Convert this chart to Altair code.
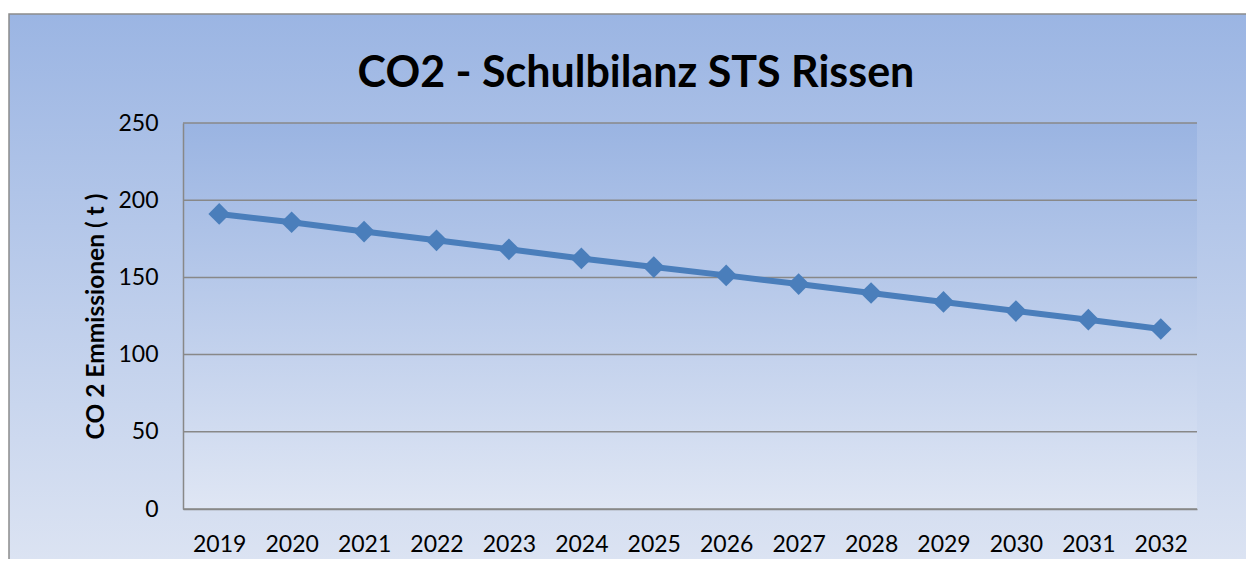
import altair as alt
import pandas as pd

years = ["2019", "2020", "2021", "2022", "2023", "2024", "2025",
         "2026", "2027", "2028", "2029", "2030", "2031", "2032"]
emissions = [191.1, 185.7, 179.7, 174.0, 168.2, 162.3, 156.7,
             151.3, 145.7, 139.9, 134.1, 128.2, 122.6, 116.6]
y_ticks = [0, 50, 100, 150, 200, 250]
title_text = "CO2 - Schulbilanz STS Rissen"
y_title = "CO 2 Emmissionen ( t )"

df = pd.DataFrame({"Jahr": years, "CO2": emissions})
grid_df = pd.DataFrame({"g": y_ticks})

W, H = 1014, 386
LINE = "#4A7EBB"
GRID = "#888888"
FONT = "Lato, sans-serif"

one = pd.DataFrame({"k": [0]})

outer_bg = alt.Chart(one).mark_rect(
    color=alt.LinearGradient(
        gradient="linear",
        stops=[alt.GradientStop(color="#9BB5E3", offset=0),
               alt.GradientStop(color="#DEE5F3", offset=1)],
        x1=0, x2=0, y1=0, y2=1),
    stroke="#8C8C8C", strokeWidth=1.5,
).encode(x=alt.value(-174), x2=alt.value(1090), y=alt.value(-109), y2=alt.value(460))

plot_bg = alt.Chart(one).mark_rect(
    color=alt.LinearGradient(
        gradient="linear",
        stops=[alt.GradientStop(color="#9AB4E2", offset=0),
               alt.GradientStop(color="#DFE6F4", offset=1)],
        x1=0, x2=0, y1=0, y2=1),
).encode(x=alt.value(0), x2=alt.value(W), y=alt.value(0), y2=alt.value(H))

title = alt.Chart(pd.DataFrame({"t": [title_text]})).mark_text(
    font=FONT, fontSize=43, fontWeight="bold", color="black",
    align="center", baseline="alphabetic",
).encode(text="t:N", x=alt.value(453), y=alt.value(-36))

y_scale = alt.Scale(domain=[0, 250], nice=False, zero=True)

grid = alt.Chart(grid_df).mark_rule(color=GRID, strokeWidth=1.5).encode(
    y=alt.Y("g:Q", scale=y_scale), x=alt.value(0), x2=alt.value(W))

x_enc = alt.X("Jahr:O", sort=years,
              scale=alt.Scale(type="point", padding=0.5),
              axis=alt.Axis(title=None, labelAngle=0, ticks=False, tickSize=0,
                            domain=True, domainColor=GRID, domainWidth=1.5,
                            labelPadding=24, grid=False, zindex=1,
                            labelFont=FONT, labelFontSize=23,
                            labelColor="black"))
y_enc = alt.Y("CO2:Q", scale=y_scale,
              axis=alt.Axis(values=y_ticks, grid=False, domain=True,
                            domainColor=GRID, domainWidth=1.5, zindex=1,
                            ticks=False, tickSize=0,
                            labelPadding=25, labelFont=FONT,
                            labelFontSize=23, labelColor="black",
                            title=y_title, titleFont=FONT, titleFontSize=24.5,
                            titleFontWeight="bold", titleColor="black",
                            titleX=-80, titleY=193, titleAngle=270,
                            titleAlign="center", titleBaseline="alphabetic"))

line = alt.Chart(df).mark_line(color=LINE, strokeWidth=6).encode(x=x_enc, y=y_enc)
points = alt.Chart(df).mark_point(shape="diamond", filled=True, size=470,
                                  color=LINE, opacity=1).encode(x=x_enc, y=y_enc)

chart = alt.layer(outer_bg, plot_bg, grid, title, line, points).properties(
    width=W, height=H,
    autosize=alt.AutoSizeParams(type="none"),
    padding={"left": 175, "top": 115, "right": 49, "bottom": 50},
    background="white",
).configure_view(stroke=None)

chart.save("out.html", embed_options={"renderer": "svg", "actions": False})
